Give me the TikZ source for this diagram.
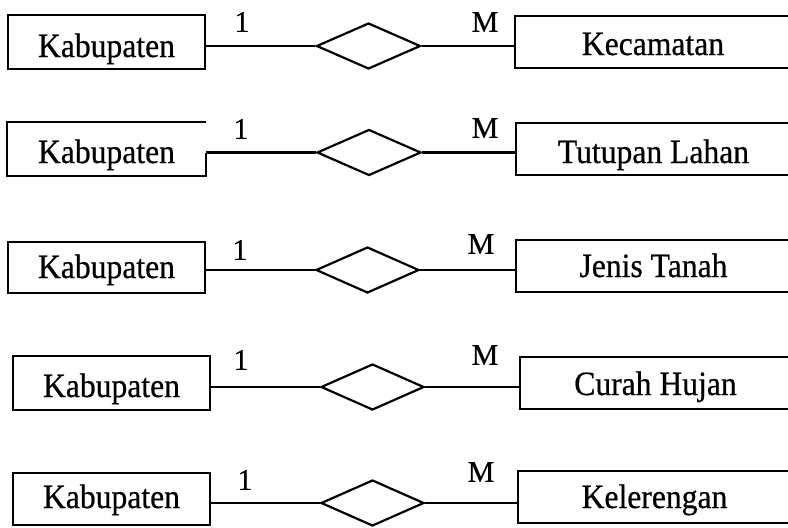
\documentclass[tikz,border=0pt]{standalone}
\usepackage{fontspec}
\setmainfont{Liberation Serif}
\newfontfamily\entfont[FakeStretch=0.93,FakeBold=0.6]{Liberation Serif}
\newfontfamily\cardfont[FakeBold=0.6]{Liberation Serif}
\usetikzlibrary{shapes.geometric}
\begin{document}
\begin{tikzpicture}[x=1pt,y=-1pt,line width=2.2pt,
  ent/.style={rectangle,inner sep=0pt,text depth=0pt,text height=#1,
    font=\entfont\fontsize{34}{40}\selectfont},
  box/.style={draw},
  rel/.style={diamond,draw,inner sep=0pt,minimum width=104pt,minimum height=46pt},
  card/.style={inner sep=0pt,font=\cardfont\fontsize{30}{36}\selectfont},
  link/.style={line width=2.2pt}]
\useasboundingbox (0,0) rectangle (788,528);
% Row 1
\node[ent=30pt,box,minimum width=197pt,minimum height=54pt] (k1) at (106.5,42) {Kabupaten};
\node[rel] (d1) at (368.5,46) {};
\node[ent=26pt,box,minimum width=276pt,minimum height=52pt] (c1) at (653,42) {Kecamatan};
\node[card] (o1) at (242,22) {1};
\node[card] (m1) at (485,22) {M};
\draw[link] (d1.west) -- (d1.west -| k1.east);
\draw[link] (d1.east) -- (d1.east -| c1.west);
% Row 2
\node[ent=28pt,minimum width=197pt,minimum height=52pt] (k2) at (106.5,149) {Kabupaten};
\node[rel] (d2) at (369,152.5) {};
\draw[link] (k2.south east |- d2.west) -- (k2.south east) -- (k2.south west) -- (k2.north west) -- (k2.north east);
\node[ent=28pt,box,minimum width=275pt,minimum height=52pt] (c2) at (653.5,149) {Tutupan Lahan};
\node[card] (o2) at (241,129) {1};
\node[card] (m2) at (485,128) {M};
\draw[link] (d2.west) -- (d2.west -| k2.east);
\draw[link] (d2.east) -- (d2.east -| c2.west);
% Row 3
\node[ent=21pt,box,minimum width=197pt,minimum height=51pt] (k3) at (106.5,267.5) {Kabupaten};
\node[rel,minimum width=103pt] (d3) at (367.5,270) {};
\node[ent=22pt,box,minimum width=275pt,minimum height=52pt] (c3) at (653.5,266) {Jenis Tanah};
\node[card] (o3) at (240,250) {1};
\node[card] (m3) at (481,244) {M};
\draw[link] (d3.west) -- (d3.west -| k3.east);
\draw[link] (d3.east) -- (d3.east -| c3.west);
% Row 4
\node[ent=28pt,box,minimum width=197pt,minimum height=54pt] (k4) at (111.5,383) {Kabupaten};
\node[rel,minimum width=103pt] (d4) at (372.5,387) {};
\node[ent=24pt,box,minimum width=271pt,minimum height=52pt] (c4) at (655.5,383) {Curah Hujan};
\node[card] (o4) at (241,360) {1};
\node[card] (m4) at (485,355) {M};
\draw[link] (d4.west) -- (d4.west -| k4.east);
\draw[link] (d4.east) -- (d4.east -| c4.west);
% Row 5
\node[ent=18pt,box,minimum width=197pt,minimum height=52pt] (k5) at (111.5,499) {Kabupaten};
\node[rel,minimum width=103pt] (d5) at (372.5,503) {};
\node[ent=22pt,box,minimum width=273pt,minimum height=52pt] (c5) at (654.5,497) {Kelerengan};
\node[card] (o5) at (245,480) {1};
\node[card] (m5) at (481,472) {M};
\draw[link] (d5.west) -- (d5.west -| k5.east);
\draw[link] (d5.east) -- (d5.east -| c5.west);
\end{tikzpicture}
\end{document}
